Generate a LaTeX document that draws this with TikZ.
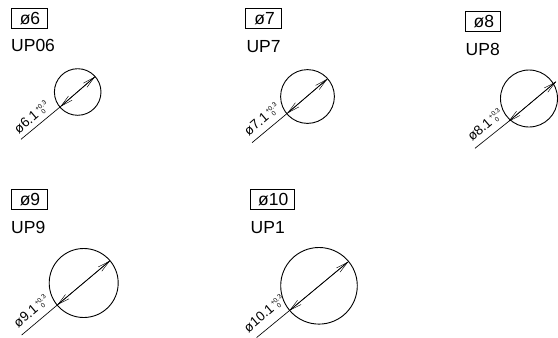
\documentclass[tikz,border=0pt]{standalone}
\usepackage{fontspec}
\setmainfont{Liberation Sans}
\usetikzlibrary{arrows.meta}
\tikzset{
  x=1pt,y=-1pt,
  tagbox/.style={draw,line width=0.9pt,minimum height=20.4pt,inner sep=0pt,font=\fontsize{17.5}{18}\selectfont,anchor=center},
  partlabel/.style={font=\fontsize{17.5}{18}\selectfont,anchor=base west,inner sep=0pt},
  hole/.style={draw,line width=0.9pt,circle,inner sep=0pt},
  dimline/.style={line width=0.65pt},
  tip/.style={-{Straight Barb[length=12pt,width=5.5pt,line width=0.45pt]}},
  dimtext/.style={rotate=40.5,anchor=base west,inner sep=0pt,font=\fontsize{13.5}{14}\selectfont},
}
\newcommand{\tol}{\hspace{1.5pt}\raisebox{5pt}{\rlap{\fontsize{6.5}{6.5}\selectfont +0.3}}\raisebox{-1.5pt}{\rlap{\hspace{3pt}\fontsize{6.5}{6.5}\selectfont 0}}}
\newcommand{\tagtext}[1]{\hspace{2pt}#1}
\begin{document}
\begin{tikzpicture}
\useasboundingbox (0,0) rectangle (558,338);
% ø6
\node[tagbox,minimum width=36pt] (t1) at (29,18.5) {\tagtext{ø6}};
\node[partlabel] (l1) at (11,51.7) {UP06};
\node[hole,minimum size=46.6pt] (c1) at (77.7,92) {};
\coordinate (a1) at (21,139.3);\coordinate (p1) at (60.4,106.7);\coordinate (q1) at (95,76.7);
\draw[dimline] (a1) -- (p1);
\draw[dimline,tip] (q1) -- (p1);
\draw[dimline,tip] (p1) -- (q1);
\node[dimtext] (d1) at (18.6,134.4) {ø6.1\tol};
% ø7
\node[tagbox,minimum width=36pt] (t2) at (263.7,18.4) {\tagtext{ø7}};
\node[partlabel] (l2) at (246.3,52) {UP7};
\node[hole,minimum size=53.8pt] (c2) at (307.5,96.5) {};
\coordinate (a2) at (252,142.7);\coordinate (p2) at (287.3,113.3);\coordinate (q2) at (327.3,79);
\draw[dimline] (a2) -- (p2);
\draw[dimline,tip] (q2) -- (p2);
\draw[dimline,tip] (p2) -- (q2);
\node[dimtext] (d2) at (248.8,136.4) {ø7.1\tol};
% ø8
\node[tagbox,minimum width=35.7pt] (t3) at (482.9,21.4) {\tagtext{ø8}};
\node[partlabel] (l3) at (465.5,55.7) {UP8};
\node[hole,minimum size=57pt] (c3) at (529,98.5) {};
\coordinate (a3) at (475,148.3);\coordinate (p3) at (508.3,121.7);\coordinate (q3) at (556,81.7);
\draw[dimline] (a3) -- (p3);
\draw[dimline,tip] (q3) -- (p3);
\draw[dimline,tip] (p3) -- (q3);
\node[dimtext] (d3) at (472.1,141.9) {ø8.1\tol};
% ø9
\node[tagbox,minimum width=36pt] (t4) at (29,199.2) {\tagtext{ø9}};
\node[partlabel] (l4) at (11,233.3) {UP9};
\node[hole,minimum size=69pt] (c4) at (83.7,283) {};
\coordinate (a4) at (21.7,335);\coordinate (p4) at (57.3,305);\coordinate (q4) at (110,260.7);
\draw[dimline] (a4) -- (p4);
\draw[dimline,tip] (q4) -- (p4);
\draw[dimline,tip] (p4) -- (q4);
\node[dimtext] (d4) at (18.1,328.4) {ø9.1\tol};
% ø10
\node[tagbox,minimum width=44.3pt] (t5) at (272.2,199.2) {\tagtext{ø10}};
\node[partlabel] (l5) at (250.5,233.3) {UP1};
\node[hole,minimum size=76.6pt] (c5) at (319,285.8) {};
\coordinate (a5) at (256.7,337.5);\coordinate (p5) at (289.3,310.7);\coordinate (q5) at (348.3,261.7);
\draw[dimline] (a5) -- (p5);
\draw[dimline,tip] (q5) -- (p5);
\draw[dimline,tip] (p5) -- (q5);
\node[dimtext] (d5) at (248.4,333.2) {ø10.1\tol};
\end{tikzpicture}
\end{document}
